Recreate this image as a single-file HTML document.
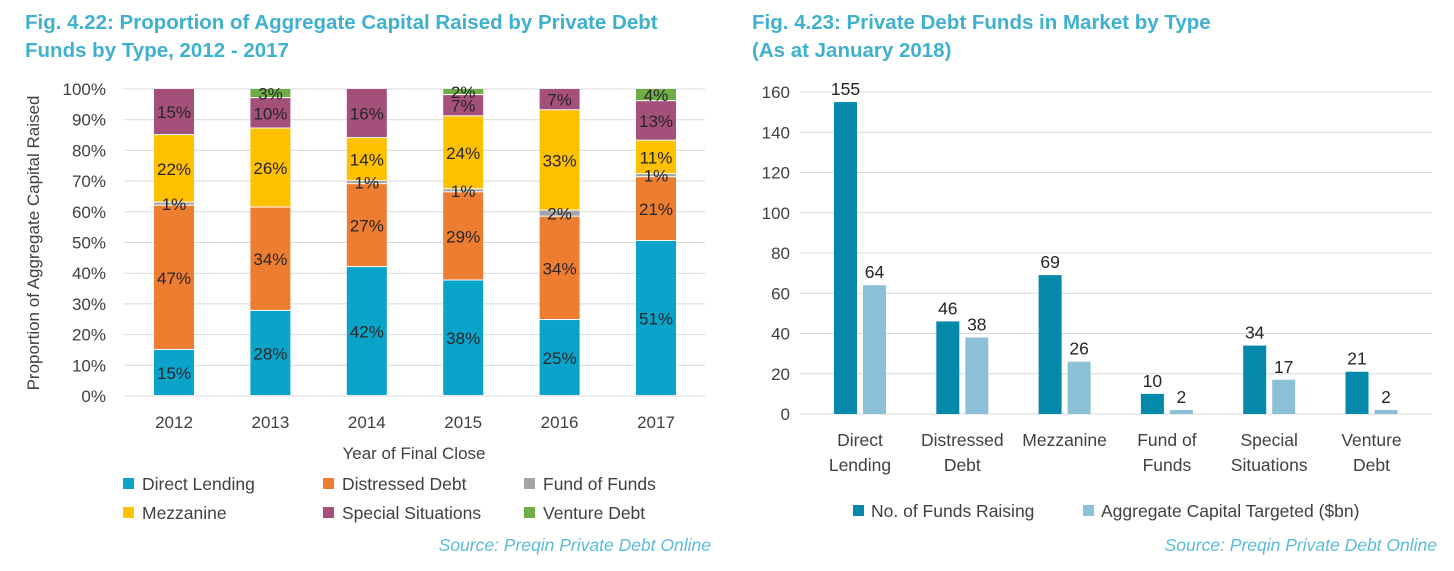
<!DOCTYPE html>
<html><head><meta charset="utf-8"><style>
html,body{margin:0;padding:0;background:#fff;}
body{width:1454px;height:566px;overflow:hidden;font-family:"Liberation Sans",sans-serif;}
svg text{font-family:"Liberation Sans",sans-serif;}
</style></head><body>
<svg id="s" width="1454" height="566" viewBox="0 0 1454 566" xmlns="http://www.w3.org/2000/svg">
<g fill="#3fb0d0" font-weight="bold" font-size="20.5">
<text x="25" y="29">Fig. 4.22: Proportion of Aggregate Capital Raised by Private Debt</text>
<text x="25" y="57">Funds by Type, 2012 - 2017</text></g>
<g fill="#3fb0d0" font-weight="bold" font-size="20.5">
<text x="752" y="29">Fig. 4.23: Private Debt Funds in Market by Type</text>
<text x="752" y="57">(As at January 2018)</text></g>
<g id="L"></g><g id="LL"></g><g id="R"></g>
<text x="711" y="551" text-anchor="end" font-style="italic" font-size="17.5" fill="#5bbcd8">Source: Preqin Private Debt Online</text>
<text x="1437" y="551" text-anchor="end" font-style="italic" font-size="17.5" fill="#5bbcd8">Source: Preqin Private Debt Online</text>
</svg>
<script>
const years=["2012","2013","2014","2015","2016","2017"];
const seriesNames=["Direct Lending","Distressed Debt","Fund of Funds","Mezzanine","Special Situations","Venture Debt"];
const directLending=[15,28,42,38,25,51];
const distressedDebt=[47,34,27,29,34,21];
const fundOfFunds=[1,0,1,1,2,1];
const mezzanine=[22,26,14,24,33,11];
const specialSituations=[15,10,16,7,7,13];
const ventureDebt=[0,3,0,2,0,4];
const pctTicks=[0,10,20,30,40,50,60,70,80,90,100];
const types=["Direct|Lending","Distressed|Debt","Mezzanine","Fund of|Funds","Special|Situations","Venture|Debt"];
const fundsRaising=[155,46,69,10,34,21];
const capitalTargeted=[64,38,26,2,17,2];
const countTicks=[0,20,40,60,80,100,120,140,160];

const NS="http://www.w3.org/2000/svg";
function mk(p,t,a,txt){const e=document.createElementNS(NS,t);for(const k in a)e.setAttribute(k,a[k]);if(txt!==undefined)e.textContent=txt;p.appendChild(e);return e;}
const colors=["#0aa3c9","#ed7d31","#a5a5a5","#ffc000","#a5507a","#70ad47"];
const stacks=[directLending,distressedDebt,fundOfFunds,mezzanine,specialSituations,ventureDebt];

const L=document.getElementById('L');
const LL=document.getElementById('LL');
const y0=396,y1=89,lx0=124,lx1=705;
const ly=v=>y0-(v/100)*(y0-y1);
const lxc=i=>174+i*96.4;
pctTicks.forEach(t=>{
 const g=mk(L,'line',{x1:lx0,x2:lx1,y1:ly(t),y2:ly(t),stroke:'#d9d9d9','stroke-width':1});
 
 const tx=mk(L,'text',{x:106,y:ly(t)+6,'text-anchor':'end','font-size':17,fill:'#404040'},t+'%');
 
});
years.forEach((yr,i)=>{
 let tot=0;stacks.forEach(s=>tot+=s[i]);
 let cum=0;const cx=lxc(i);
 stacks.forEach((s,k)=>{
  const v=s[i];if(!v)return;
  const a=cum/tot*100,b=(cum+v)/tot*100;cum+=v;
  const r=mk(L,'rect',{x:cx-20,y:ly(b),width:40,height:Math.max(ly(a)-ly(b)-1,1),fill:colors[k]});
  
  const yy=(ly(a)+ly(b))/2+6;
  const t=mk(LL,'text',{x:cx,y:yy,'text-anchor':'middle','font-size':17,fill:'#262626'},v+'%');
  
 });
 const xl=mk(L,'text',{x:cx,y:428,'text-anchor':'middle','font-size':17,fill:'#404040'},yr);
 
});
const xt=mk(L,'text',{x:414,y:459,'text-anchor':'middle','font-size':17,fill:'#404040'},'Year of Final Close');

const yt=mk(L,'text',{x:0,y:0,'text-anchor':'middle','font-size':17,fill:'#404040',transform:'translate(39,243) rotate(-90)'},'Proportion of Aggregate Capital Raised');

const legX=[123,323,524],legY=[484,513];
seriesNames.forEach((n,k)=>{
 const x=legX[k%3],y=legY[Math.floor(k/3)];
 const r=mk(L,'rect',{x:x,y:y-6,width:11,height:11,fill:colors[k]});
 
 const t=mk(L,'text',{x:x+19,y:y+6,'font-size':17.5,fill:'#404040'},n);
 
});

const R=document.getElementById('R');
const r0=414,r1=92,rx0=800,rx1=1432;
const ry=v=>r0-(v/160)*(r0-r1);
const rxc=i=>860+i*102.3;
countTicks.forEach(t=>{
 const g=mk(R,'line',{x1:rx0,x2:rx1,y1:ry(t),y2:ry(t),stroke:'#d9d9d9','stroke-width':1});
 
 const tx=mk(R,'text',{x:790,y:ry(t)+6,'text-anchor':'end','font-size':17,fill:'#404040'},t);
 
});
const rc=["#0489ab","#8bc0d6"];
types.forEach((ty,i)=>{
 const cx=rxc(i);
 [fundsRaising,capitalTargeted].forEach((s,k)=>{
  const x=k===0?cx-26:cx+3;
  const r=mk(R,'rect',{x:x,y:ry(s[i]),width:23,height:r0-ry(s[i]),fill:rc[k]});
  
  const t=mk(R,'text',{x:x+11.5,y:ry(s[i])-7,'text-anchor':'middle','font-size':17.5,fill:'#262626'},s[i]);
  
 });
 ty.split('|').forEach((ln,j)=>{
  const t=mk(R,'text',{x:cx,y:446+j*25,'text-anchor':'middle','font-size':17.5,fill:'#404040'},ln);
  
 });
});
[["No. of Funds Raising",853],["Aggregate Capital Targeted ($bn)",1083]].forEach((l,k)=>{
 const r=mk(R,'rect',{x:l[1],y:505,width:11,height:11,fill:rc[k]});
 
 const t=mk(R,'text',{x:l[1]+18,y:517,'font-size':17.5,fill:'#404040'},l[0]);
 
});
</script>
</body></html>
